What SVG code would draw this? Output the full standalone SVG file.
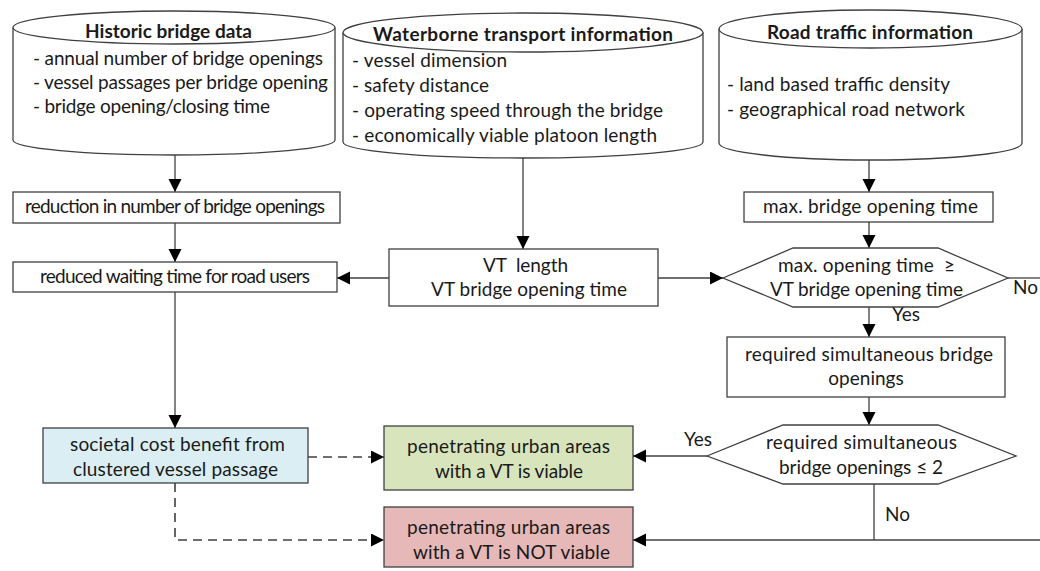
<svg xmlns="http://www.w3.org/2000/svg" width="1040" height="571" viewBox="0 0 1040 571">
<style>
text{font-family:Lato,"Open Sans","Liberation Sans",sans-serif;font-size:19px;fill:#1a1a1a}
.t{font-weight:bold}
.c{text-anchor:middle}
.shape{fill:#fff;stroke:#404040;stroke-width:1.3}
.line{fill:none;stroke:#404040;stroke-width:1.3}
.dash{fill:none;stroke:#404040;stroke-width:1.6;stroke-dasharray:9 6}
</style>
<defs>
<marker id="ah" markerUnits="userSpaceOnUse" markerWidth="14" markerHeight="14" refX="13" refY="6.5" orient="auto">
<path d="M0,0 L13,6.5 L0,13 z" fill="#000"/>
</marker>
</defs>
<rect width="1040" height="571" fill="#fff"/>
<g id="connectors">
<line class="line" x1="175" y1="155" x2="175" y2="192" marker-end="url(#ah)"/>
<line class="line" x1="175" y1="223" x2="175" y2="262" marker-end="url(#ah)"/>
<line class="line" x1="175" y1="292" x2="175" y2="428" marker-end="url(#ah)"/>
<line class="line" x1="523" y1="158" x2="523" y2="249" marker-end="url(#ah)"/>
<line class="line" x1="389" y1="278" x2="337" y2="278" marker-end="url(#ah)"/>
<line class="line" x1="658" y1="278" x2="723" y2="278" marker-end="url(#ah)"/>
<line class="line" x1="869" y1="160" x2="869" y2="192" marker-end="url(#ah)"/>
<line class="line" x1="869" y1="222" x2="869" y2="248" marker-end="url(#ah)"/>
<line class="line" x1="1008" y1="278" x2="1040" y2="278"/>
<line class="line" x1="869" y1="307" x2="869" y2="337" marker-end="url(#ah)"/>
<line class="line" x1="869" y1="397" x2="869" y2="425" marker-end="url(#ah)"/>
<line class="line" x1="707" y1="456" x2="633" y2="456" marker-end="url(#ah)"/>
<line class="line" x1="874" y1="484" x2="874" y2="540"/>
<line class="line" x1="1040" y1="540" x2="633" y2="540" marker-end="url(#ah)"/>
<line class="dash" x1="308" y1="457" x2="384" y2="457" marker-end="url(#ah)"/>
<polyline class="dash" points="175,483 175,540 384,540" marker-end="url(#ah)"/>
<text x="1013" y="294">No</text>
<text x="892" y="321">Yes</text>
<text x="684" y="446">Yes</text>
<text x="885" y="521">No</text>
</g>
<g id="historic">
<path class="shape" d="M13,27.5 L13,140 A161,15 0 0 0 335,140 L335,27.5"/>
<ellipse class="shape" cx="174" cy="27.5" rx="161" ry="16.5"/>
<text class="t" x="85" y="38" textLength="167">Historic bridge data</text>
<text x="33" y="65" textLength="290">- annual number of bridge openings</text>
<text x="33" y="89" textLength="295">- vessel passages per bridge opening</text>
<text x="33" y="113" textLength="237">- bridge opening/closing time</text>
</g>
<g id="waterborne">
<path class="shape" d="M343,32.5 L343,142 A180,16 0 0 0 703,142 L703,32.5"/>
<ellipse class="shape" cx="523" cy="32.5" rx="180" ry="19.5"/>
<text class="t" x="373" y="41" textLength="300">Waterborne transport information</text>
<text x="352" y="67" textLength="155">- vessel dimension</text>
<text x="352" y="92" textLength="137">- safety distance</text>
<text x="352" y="117" textLength="311">- operating speed through the bridge</text>
<text x="352" y="142" textLength="305">- economically viable platoon length</text>
</g>
<g id="road">
<path class="shape" d="M719,29 L719,143 A151.5,17 0 0 0 1022,143 L1022,29"/>
<ellipse class="shape" cx="870.5" cy="29" rx="151.5" ry="19"/>
<text class="t" x="767" y="39" textLength="206">Road traffic information</text>
<text x="727" y="91" textLength="223">- land based traffic density</text>
<text x="727" y="116" textLength="238">- geographical road network</text>
</g>
<g id="reduction">
<rect class="shape" x="13" y="192" width="327" height="31"/>
<text x="25" y="213" textLength="300">reduction in number of bridge openings</text>
</g>
<g id="waiting">
<rect class="shape" x="13" y="262" width="324" height="30"/>
<text x="40" y="283" textLength="270">reduced waiting time for road users</text>
</g>
<g id="vt">
<rect class="shape" x="389" y="249" width="269" height="57"/>
<text x="483" y="272" textLength="85" xml:space="preserve">VT  length</text>
<text x="431" y="296" textLength="196">VT bridge opening time</text>
</g>
<g id="maxtime">
<rect class="shape" x="744" y="192" width="249" height="30"/>
<text x="763" y="213" textLength="215">max. bridge opening time</text>
</g>
<g id="decision1">
<polygon class="shape" points="723,278 793,248 938,248 1008,278 938,307 793,307"/>
<text x="778" y="272" textLength="177" xml:space="preserve">max. opening time  ≥</text>
<text x="770" y="296" textLength="193">VT bridge opening time</text>
</g>
<g id="simultaneous">
<rect class="shape" x="727" y="337" width="278" height="60"/>
<text x="745" y="361" textLength="248">required simultaneous bridge</text>
<text class="c" x="866" y="385">openings</text>
</g>
<g id="decision2">
<polygon class="shape" points="707,456 783,425 938,425 1016,456 938,484 783,484"/>
<text x="766" y="449" textLength="191">required simultaneous</text>
<text x="779" y="474" textLength="164">bridge openings ≤ 2</text>
</g>
<g id="societal">
<rect x="43" y="428" width="265" height="55" fill="#daeef3" stroke="#404040" stroke-width="1.3"/>
<text x="70" y="451" textLength="215">societal cost benefit from</text>
<text x="73" y="476" textLength="205">clustered vessel passage</text>
</g>
<g id="viable">
<rect x="384" y="426" width="249" height="64" fill="#d8e4bc" stroke="#404040" stroke-width="1.3"/>
<text x="407" y="453" textLength="203">penetrating urban areas</text>
<text x="435" y="478" textLength="148">with a VT is viable</text>
</g>
<g id="notviable">
<rect x="384" y="507" width="249" height="60" fill="#e6b8b7" stroke="#404040" stroke-width="1.3"/>
<text x="407" y="534" textLength="203">penetrating urban areas</text>
<text x="413" y="559" textLength="197">with a VT is NOT viable</text>
</g>
</svg>
